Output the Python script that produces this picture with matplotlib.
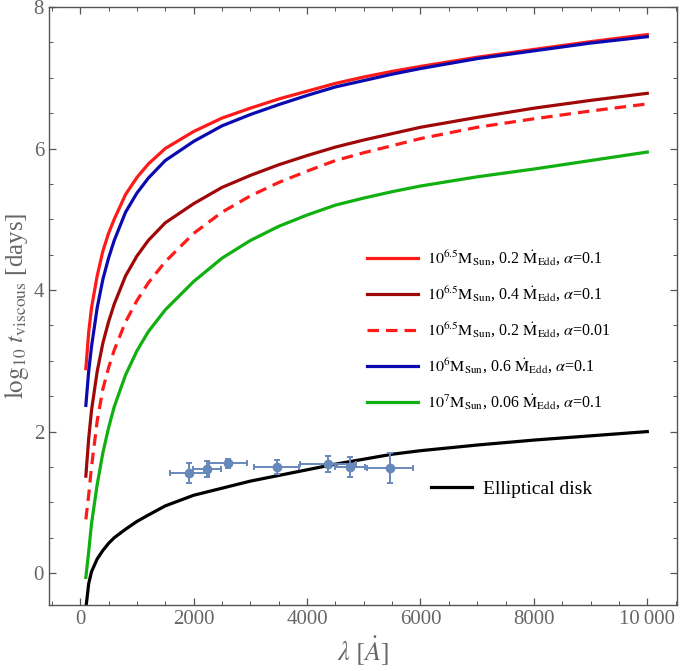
import numpy as np
import matplotlib
matplotlib.use("Agg")
import matplotlib.pyplot as plt
from matplotlib.ticker import MultipleLocator

plt.rcParams['font.family'] = ['Liberation Serif', 'DejaVu Serif']
plt.rcParams['mathtext.fontset'] = 'stix'

# wavelength grid (Angstrom) where curves were read
lam = [100, 150, 200, 300, 400, 500, 600, 800, 1000, 1200, 1500, 2000,
       2500, 3000, 3500, 4000, 4500, 5000, 5500, 6000, 7000, 8000, 9000, 10000]

# log10 t_viscous [days]
red_02 = [2.89, 3.40, 3.75, 4.20, 4.55, 4.80, 5.00, 5.35, 5.59, 5.78, 6.00, 6.24,
          6.43, 6.57, 6.70, 6.81, 6.92, 7.01, 7.09, 7.16, 7.29, 7.40, 7.51, 7.61]
darkred_04 = [1.37, 1.90, 2.30, 2.85, 3.25, 3.55, 3.80, 4.20, 4.48, 4.70, 4.95, 5.22,
              5.45, 5.62, 5.77, 5.90, 6.02, 6.12, 6.21, 6.30, 6.44, 6.57, 6.68, 6.78]
dashed_001 = [0.76, 1.10, 1.50, 2.15, 2.60, 2.90, 3.15, 3.55, 3.85, 4.10, 4.40, 4.80,
              5.10, 5.33, 5.52, 5.68, 5.83, 5.94, 6.04, 6.14, 6.30, 6.42, 6.53, 6.63]
blue_06 = [2.37, 2.85, 3.20, 3.75, 4.15, 4.45, 4.70, 5.10, 5.37, 5.58, 5.83, 6.10,
           6.32, 6.48, 6.62, 6.75, 6.87, 6.96, 7.05, 7.13, 7.27, 7.38, 7.49, 7.58]
green_006 = [-0.06, 0.30, 0.70, 1.25, 1.70, 2.05, 2.35, 2.80, 3.14, 3.41, 3.72, 4.12,
             4.45, 4.70, 4.90, 5.06, 5.20, 5.30, 5.39, 5.47, 5.60, 5.71, 5.83, 5.95]
elliptical = [-0.50, -0.15, 0.02, 0.20, 0.32, 0.42, 0.50, 0.62, 0.73, 0.82, 0.95, 1.10,
              1.20, 1.30, 1.38, 1.46, 1.54, 1.61, 1.68, 1.73, 1.81, 1.88, 1.94, 2.00]

# measured lags
obs_lam = [1926, 2238, 2608, 3465, 4376, 4758, 5463]
obs_lam_err = [345, 250, 338, 396, 494, 270, 405]
obs_t = [1.42, 1.47, 1.55, 1.50, 1.54, 1.50, 1.49]
obs_t_err = [0.14, 0.11, 0.065, 0.10, 0.11, 0.14, 0.21]

labels = [
    r'$10^{6.5}\mathrm{M_{Sun}}$, 0.2 $\dot{\mathrm{M}}_{\mathrm{Edd}}$, $\alpha$=0.1',
    r'$10^{6.5}\mathrm{M_{Sun}}$, 0.4 $\dot{\mathrm{M}}_{\mathrm{Edd}}$, $\alpha$=0.1',
    r'$10^{6.5}\mathrm{M_{Sun}}$, 0.2 $\dot{\mathrm{M}}_{\mathrm{Edd}}$, $\alpha$=0.01',
    r'$10^{6}\mathrm{M_{Sun}}$, 0.6 $\dot{\mathrm{M}}_{\mathrm{Edd}}$, $\alpha$=0.1',
    r'$10^{7}\mathrm{M_{Sun}}$, 0.06 $\dot{\mathrm{M}}_{\mathrm{Edd}}$, $\alpha$=0.1',
]

fig = plt.figure(figsize=(6.85, 6.71), dpi=100)
ax = fig.add_axes([0.0715, 0.0984, 0.9165, 0.8912])

lw = 2.3
h1, = ax.plot(lam, red_02, color='#ff1a1a', lw=lw)
h2, = ax.plot(lam, darkred_04, color='#a00808', lw=lw)
h3, = ax.plot(lam, dashed_001, color='#ff1a1a', lw=lw, ls=(0, (3.6, 2.2)))
h4, = ax.plot(lam, blue_06, color='#0a0ab0', lw=lw)
h5, = ax.plot(lam, green_006, color='#10b010', lw=lw)
h6, = ax.plot(lam, elliptical, color='black', lw=lw)

ax.errorbar(obs_lam, obs_t, xerr=obs_lam_err, yerr=obs_t_err, fmt='o',
            color='#6688bb', ms=6, elinewidth=1.4, capsize=2.5, capthick=1.4)

leg = ax.legend([h1, h2, h3, h4, h5], labels, loc='upper left',
                bbox_to_anchor=(0.484, 0.62), frameon=False, fontsize=11.5,
                handlelength=3.2, handletextpad=0.55, labelspacing=1.05)
ax.add_artist(leg)
ax.legend([h6], ['Elliptical disk'], loc='upper left',
          bbox_to_anchor=(0.58, 0.238), frameon=False, fontsize=14,
          handlelength=2.15, handletextpad=0.55)

ax.set_xlim(-550, 10520)
ax.set_ylim(-0.45, 8)
ax.xaxis.set_minor_locator(MultipleLocator(500))
ax.yaxis.set_major_locator(MultipleLocator(2))
ax.yaxis.set_minor_locator(MultipleLocator(0.5))
ax.set_xticks([0, 2000, 4000, 6000, 8000, 10000])
ax.set_xticklabels(['0', '2000', '4000', '6000', '8000', '10\u2009000'])

ax.tick_params(which='both', direction='in', top=True, right=True,
               colors='#555555', labelcolor='#666666', labelsize=15)
ax.tick_params(which='major', length=5, width=0.9)
ax.tick_params(which='minor', length=3, width=0.7)
for s in ax.spines.values():
    s.set_color('#555555')
    s.set_linewidth(1.0)

ax.set_xlabel(r'$\lambda\ [\dot{A}]$', fontsize=19, color='#666666', labelpad=4)
ax.set_ylabel(r'$\log_{10}\, t_{\mathrm{viscous}}$ [days]', fontsize=18,
              color='#666666', labelpad=2)

fig.savefig('out.png', dpi=100)
